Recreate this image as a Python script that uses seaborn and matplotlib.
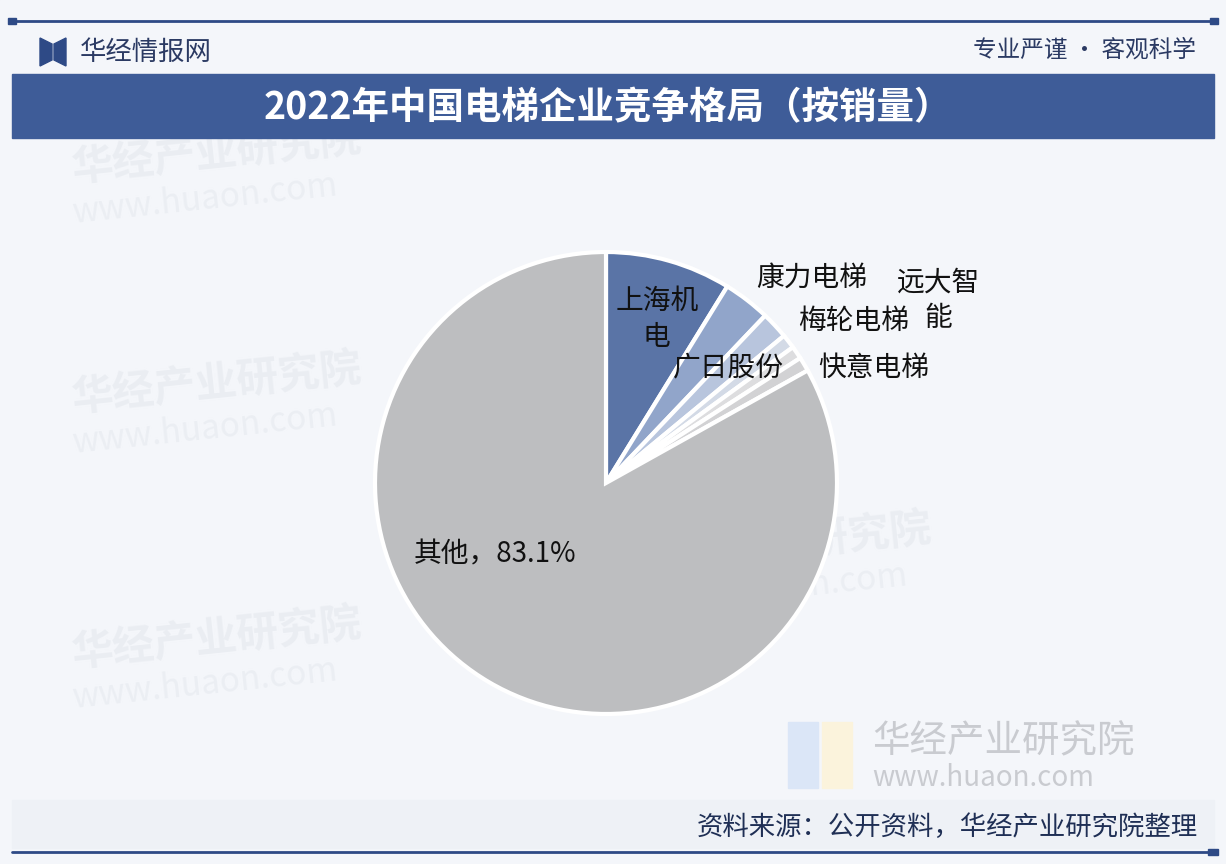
import numpy as np
import matplotlib
matplotlib.use("Agg")
import matplotlib.pyplot as plt
import seaborn as sns
from matplotlib.patches import Rectangle, Polygon

# -- data
companies = ["上海机电", "康力电梯", "梅轮电梯", "广日股份", "远大智能", "快意电梯", "其他"]
shares = [8.8, 3.3, 1.9, 1.0, 0.9, 1.0, 83.1]
slice_colors = ["#5a74a6", "#91a5ca", "#b8c5dd", "#d3dae6", "#dddddf", "#d2d2d4", "#bdbec0"]
label_texts = ["上海机\n电", "康力电梯", "梅轮电梯", "广日股份", "远大智\n能", "快意电梯", "其他，83.1%"]
# label positions in pie data coords (radius 1)
label_pos = [(0.22, 0.71), (0.89, 0.89), (1.07, 0.70), (0.53, 0.50),
             (1.44, 0.79), (1.16, 0.50), (-0.48, -0.31)]

title = "2022年中国电梯企业竞争格局（按销量）"
source = "资料来源：公开资料，华经产业研究院整理"

sns.set_theme(style="white")
plt.rcParams['font.family'] = ['Noto Sans CJK SC', 'DejaVu Sans']

W, H = 1226, 864
fig = plt.figure(figsize=(W / 100, H / 100), dpi=100)
fig.patch.set_facecolor("#f3f5f9")

# decoration layer in pixel coordinates
bg = fig.add_axes([0, 0, 1, 1])
bg.set_xlim(0, W)
bg.set_ylim(H, 0)
bg.axis("off")

navy = "#2e4a86"
bg.add_patch(Rectangle((0, 0), W, H, color="#f4f6fa", zorder=0))
bg.plot([12, 1214], [21, 21], color=navy, lw=2, zorder=2)
bg.plot([12, 1214], [852, 852], color=navy, lw=2, zorder=2)
bg.add_patch(Rectangle((8, 18), 8, 6, color=navy, zorder=3))
bg.add_patch(Rectangle((1210, 18), 8, 6, color=navy, zorder=3))
bg.add_patch(Rectangle((1208, 849), 10, 6, color=navy, zorder=3))

# header logo
bg.add_patch(Polygon([(40, 38), (52, 44), (52, 60), (40, 66)], color=navy, zorder=3))
bg.add_patch(Polygon([(66, 38), (54, 44), (54, 60), (66, 66)], color=navy, zorder=3))
bg.text(80, 52, "华经情报网", fontsize=19, color="#2b3a63", va="center", ha="left")
bg.text(1196, 50, "专业严谨 • 客观科学", fontsize=17, color="#2b3a63", va="center", ha="right")

# title bar
bg.add_patch(Rectangle((12, 74), 1202, 64, color="#3e5c98", zorder=2))
bg.text(608, 108, title, fontsize=27, fontweight="bold", color="white",
        ha="center", va="center", zorder=3)

# footer
bg.add_patch(Rectangle((12, 800), 1202, 48, color="#eef1f6", zorder=1))
bg.text(1198, 827, source, fontsize=19, color="#1f2f55", ha="right", va="center", zorder=3)

# faint watermarks
for (x, y) in [(70, 155), (70, 385), (70, 640), (640, 545)]:
    bg.text(x, y, "华经产业研究院", fontsize=30, color="#eaedf2", rotation=6,
            ha="left", va="center", zorder=1, fontweight="bold")
    bg.text(x, y + 45, "www.huaon.com", fontsize=24, color="#ebeef3", rotation=6,
            ha="left", va="center", zorder=1)
bg.add_patch(Rectangle((788, 722), 30, 66, color="#dbe6f7", zorder=1))
bg.add_patch(Rectangle((822, 722), 30, 66, color="#fbf3dc", zorder=1))
bg.text(872, 742, "华经产业研究院", fontsize=27, color="#c9cbd0", ha="left", va="center", zorder=1)
bg.text(872, 778, "www.huaon.com", fontsize=20, color="#c9cbd0", ha="left", va="center", zorder=1)

# pie
cx, cy, r = 606, 483, 231
ax = fig.add_axes([(cx - r) / W, (H - cy - r) / H, 2 * r / W, 2 * r / H])
ax.set_facecolor("none")
ax.pie(shares, colors=slice_colors, startangle=90, counterclock=False, radius=1,
       wedgeprops=dict(edgecolor="white", linewidth=3))
ax.set_xlim(-1, 1)
ax.set_ylim(-1, 1)
ax.set_aspect("equal")
ax.axis("off")

for txt, (x, y) in zip(label_texts, label_pos):
    ax.text(x, y, txt, fontsize=20, color="#111111", ha="center", va="center",
            linespacing=1.25, clip_on=False)

fig.savefig("out.png", dpi=100)
